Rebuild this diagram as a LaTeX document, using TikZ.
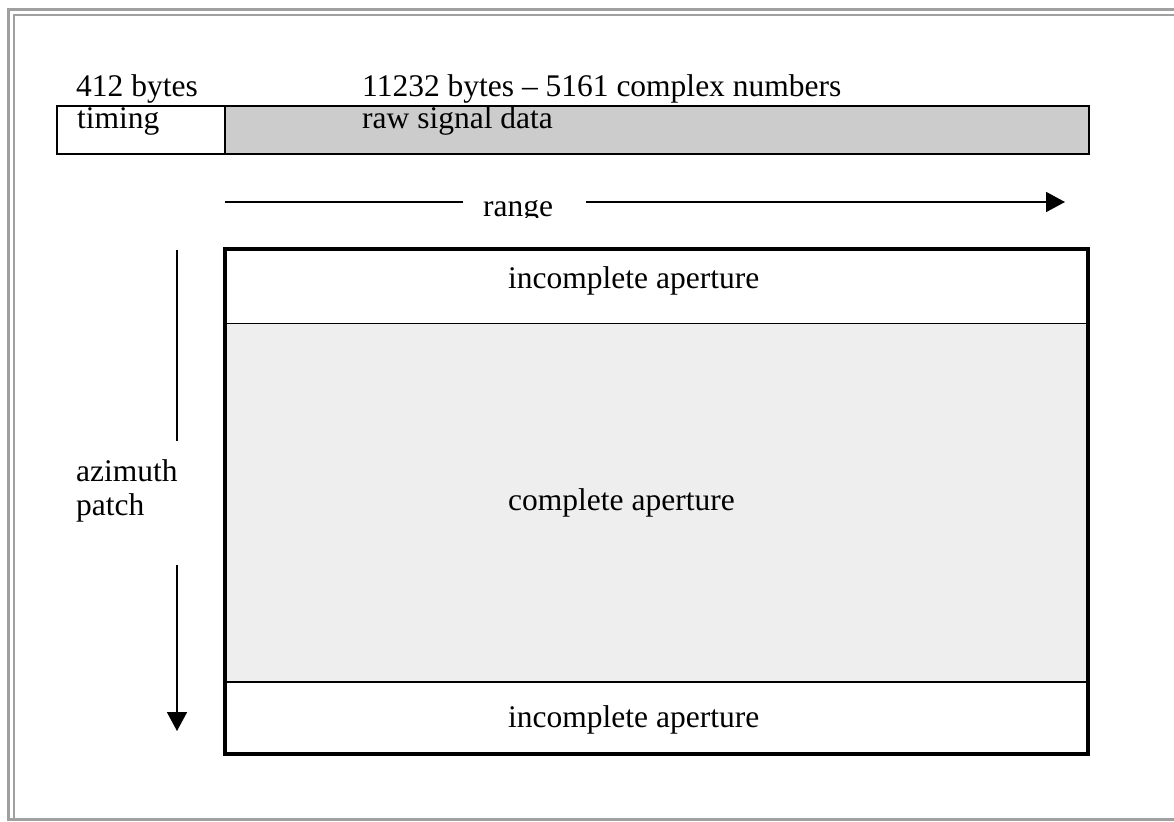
\documentclass[tikz,border=0pt]{standalone}
\usepackage{fontspec}
\setmainfont{Liberation Serif}
\usetikzlibrary{arrows.meta}
\definecolor{framegray}{HTML}{A0A0A0}
\definecolor{rawgray}{HTML}{CCCCCC}
\definecolor{aptgray}{HTML}{EEEEEE}
\tikzset{
  lbl/.style={anchor=base west, inner sep=0pt, font=\fontsize{31.5}{34}\selectfont},
  frameline/.style={draw=framegray, line width=2.2pt},
  barbox/.style={draw=black, line width=2pt},
  divline/.style={draw=black, line width=1.8pt},
  outerbox/.style={draw=black, line width=3.2pt},
  axis/.style={draw=black, line width=1.8pt},
  axisarrow/.style={axis, -{Triangle[length=19pt, width=20pt]}}
}
\begin{document}
\begin{tikzpicture}[x=1pt, y=-1pt]
\useasboundingbox (0,0) rectangle (1174,821);
\fill[white] (0,0) rectangle (1174,821);
% page frame
\draw[frameline] (8.5,821) -- (8.5,9.5) -- (1174,9.5);
\draw[frameline] (14,819.5) -- (14,15) -- (1174,15);
\draw[frameline] (8.5,819.5) -- (1174,819.5);
% top bar
\node[draw=none, fill=white, minimum width=168pt, minimum height=48pt, anchor=north west, inner sep=0pt] (timingbox) at (57,106) {};
\node[draw=none, fill=rawgray, minimum width=864pt, minimum height=48pt, anchor=north west, inner sep=0pt] (rawbox) at (225,106) {};
\draw[barbox] (57,106) rectangle (1089,154);
\draw[barbox] (timingbox.north east) -- (timingbox.south east);
\node[lbl] (bytes1) at (76,97) {412 bytes};
\node[lbl] (bytes2) at (362,97) {11232 bytes – 5161 complex numbers};
\node[lbl] (timing) at (77,129) {timing};
\node[lbl] (raw) at (362,129) {raw signal data};
% range arrow
\coordinate (rstart) at (225,202);
\coordinate (rleftend) at (463,202);
\coordinate (rrightstart) at (586,202);
\coordinate (rend) at (1065,202);
\draw[axis] (rstart) -- (rleftend);
\draw[axisarrow] (rrightstart) -- (rend);
\begin{scope}
\clip (470,180) rectangle (570,217);
\node[lbl] (range) at (483,216) {range};
\end{scope}
% aperture blocks
\node[fill=white, minimum width=863pt, minimum height=74pt, anchor=north west, inner sep=0pt] (topinc) at (225,249) {};
\node[fill=aptgray, minimum width=863pt, minimum height=359pt, anchor=north west, inner sep=0pt] (complete) at (225,323) {};
\node[fill=white, minimum width=863pt, minimum height=72pt, anchor=north west, inner sep=0pt] (botinc) at (225,682) {};
\draw[divline] (topinc.south west) -- (topinc.south east);
\draw[divline] (botinc.north west) -- (botinc.north east);
\draw[outerbox] (225,249) rectangle (1088,754);
\node[lbl] (inctop) at (508,288) {incomplete aperture};
\node[lbl] (comp) at (508,510) {complete aperture};
\node[lbl] (incbot) at (508,727) {incomplete aperture};
% azimuth arrow
\coordinate (astart) at (177,250);
\coordinate (aupend) at (177,441);
\coordinate (alowstart) at (177,565);
\coordinate (aend) at (177,731);
\draw[axis] (astart) -- (aupend);
\draw[axisarrow] (alowstart) -- (aend);
\node[lbl] (az) at (76,481) {azimuth};
\node[lbl] (patch) at (76,515) {patch};
\end{tikzpicture}
\end{document}
